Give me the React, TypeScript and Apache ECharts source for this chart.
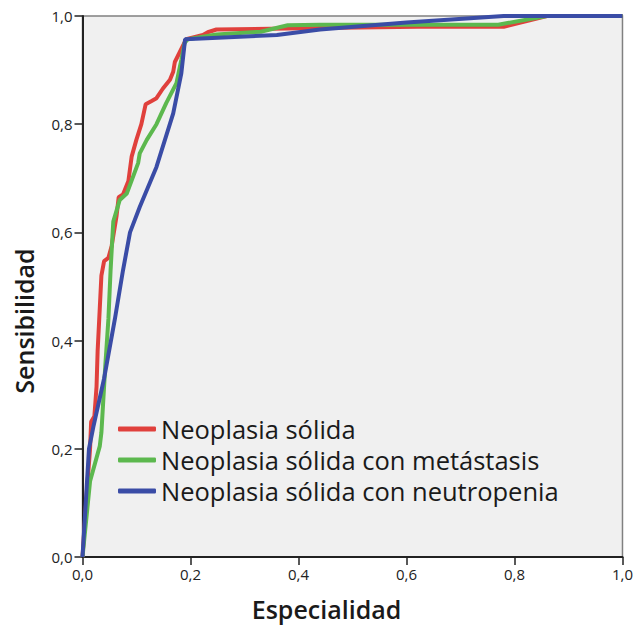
import React, { useEffect, useRef } from "react";
import * as echarts from "echarts";

const seriesNames = [
  "Neoplasia sólida",
  "Neoplasia sólida con metástasis",
  "Neoplasia sólida con neutropenia",
];
const seriesColors = ["#e0403c", "#5cb84e", "#3a4ca6"];

const solidaX = [0, 0.008, 0.014, 0.016, 0.022, 0.026, 0.028, 0.032, 0.035, 0.04, 0.048, 0.054, 0.063, 0.067, 0.075, 0.085, 0.091, 0.1, 0.109, 0.117, 0.128, 0.137, 0.149, 0.162, 0.168, 0.171, 0.18, 0.186, 0.192, 0.223, 0.232, 0.248, 0.44, 0.62, 0.78, 0.8, 0.86, 1];
const solidaY = [0, 0.12, 0.2, 0.25, 0.26, 0.315, 0.38, 0.46, 0.52, 0.547, 0.553, 0.575, 0.63, 0.665, 0.67, 0.695, 0.74, 0.772, 0.8, 0.837, 0.843, 0.848, 0.866, 0.882, 0.897, 0.915, 0.933, 0.945, 0.957, 0.965, 0.97, 0.975, 0.978, 0.98, 0.98, 0.985, 1, 1];

const metastasisX = [0, 0.008, 0.014, 0.032, 0.035, 0.042, 0.048, 0.052, 0.057, 0.069, 0.082, 0.103, 0.106, 0.119, 0.137, 0.155, 0.174, 0.183, 0.189, 0.195, 0.248, 0.33, 0.38, 0.44, 0.77, 0.86, 1];
const metastasisY = [0, 0.08, 0.14, 0.205, 0.23, 0.35, 0.44, 0.53, 0.62, 0.66, 0.672, 0.728, 0.746, 0.771, 0.8, 0.839, 0.876, 0.919, 0.95, 0.957, 0.966, 0.971, 0.983, 0.984, 0.984, 1, 1];

const neutropeniaX = [0, 0.012, 0.02, 0.04, 0.06, 0.075, 0.088, 0.106, 0.137, 0.168, 0.183, 0.19, 0.36, 0.44, 0.6, 0.78, 1];
const neutropeniaY = [0, 0.2, 0.24, 0.33, 0.44, 0.53, 0.6, 0.647, 0.721, 0.82, 0.894, 0.957, 0.965, 0.975, 0.988, 1, 1];

const xTitle = "Especialidad";
const yTitle = "Sensibilidad";

const FONT = "'Open Sans', 'Noto Sans', sans-serif";

function pairs(xs: number[], ys: number[]) {
  return xs.map((x, i) => [x, ys[i]]);
}

export default function App() {
  const ref = useRef<HTMLDivElement>(null);
  useEffect(() => {
    document.body.style.margin = "0";
    const chart = echarts.init(ref.current!, undefined, { renderer: "svg" });
    const fmt = (v: number) => v.toFixed(1).replace(".", ",");
    const axisCommon = {
      type: "value" as const,
      min: 0,
      max: 1,
      interval: 0.2,
      axisLine: { show: true, lineStyle: { color: "#222", width: 2 } },
      axisTick: { show: true, length: 8, lineStyle: { color: "#222", width: 1.5 } },
      splitLine: { show: false },
      axisLabel: { formatter: fmt, fontSize: 15, color: "#222", fontFamily: FONT },
    };
    const data = [
      pairs(solidaX, solidaY),
      pairs(metastasisX, metastasisY),
      pairs(neutropeniaX, neutropeniaY),
    ];
    chart.setOption({
      animation: false,
      backgroundColor: "#ffffff",
      grid: {
        left: 82.5,
        right: 12,
        top: 16,
        bottom: 69,
        show: true,
        backgroundColor: "#f0f0f0",
        borderColor: "#808080",
        borderWidth: 1.5,
      },
      xAxis: { ...axisCommon, axisLabel: { ...axisCommon.axisLabel, margin: 9 } },
      yAxis: { ...axisCommon, axisLabel: { ...axisCommon.axisLabel, margin: 10 } },
      legend: {
        orient: "vertical",
        left: 118,
        top: 413.5,
        padding: 0,
        itemGap: 0,
        itemWidth: 38,
        itemHeight: 5,
        icon: "roundRect",
        textStyle: { fontSize: 25.5, lineHeight: 31, color: "#1a1a1a", fontFamily: FONT, fontWeight: 500 },
        data: seriesNames,
      },
      series: seriesNames.map((name, i) => ({
        name,
        type: "line",
        data: data[i],
        showSymbol: false,
        symbol: "none",
        color: seriesColors[i],
        lineStyle: { width: 4, color: seriesColors[i] },
        z: 2 + i,
      })),
      graphic: [
        {
          type: "text",
          x: 326.5,
          y: 609,
          style: {
            text: xTitle,
            fontSize: 25,
            fontWeight: 600,
            fontFamily: FONT,
            fill: "#1a1a1a",
            align: "center",
            verticalAlign: "middle",
          },
        },
        {
          type: "text",
          x: 24,
          y: 321,
          rotation: Math.PI / 2,
          style: {
            text: yTitle,
            fontSize: 25,
            fontWeight: 600,
            fontFamily: FONT,
            fill: "#1a1a1a",
            align: "center",
            verticalAlign: "middle",
          },
        },
      ],
    });
    return () => chart.dispose();
  }, []);
  return <div ref={ref} style={{ width: 636, height: 626 }} />;
}
